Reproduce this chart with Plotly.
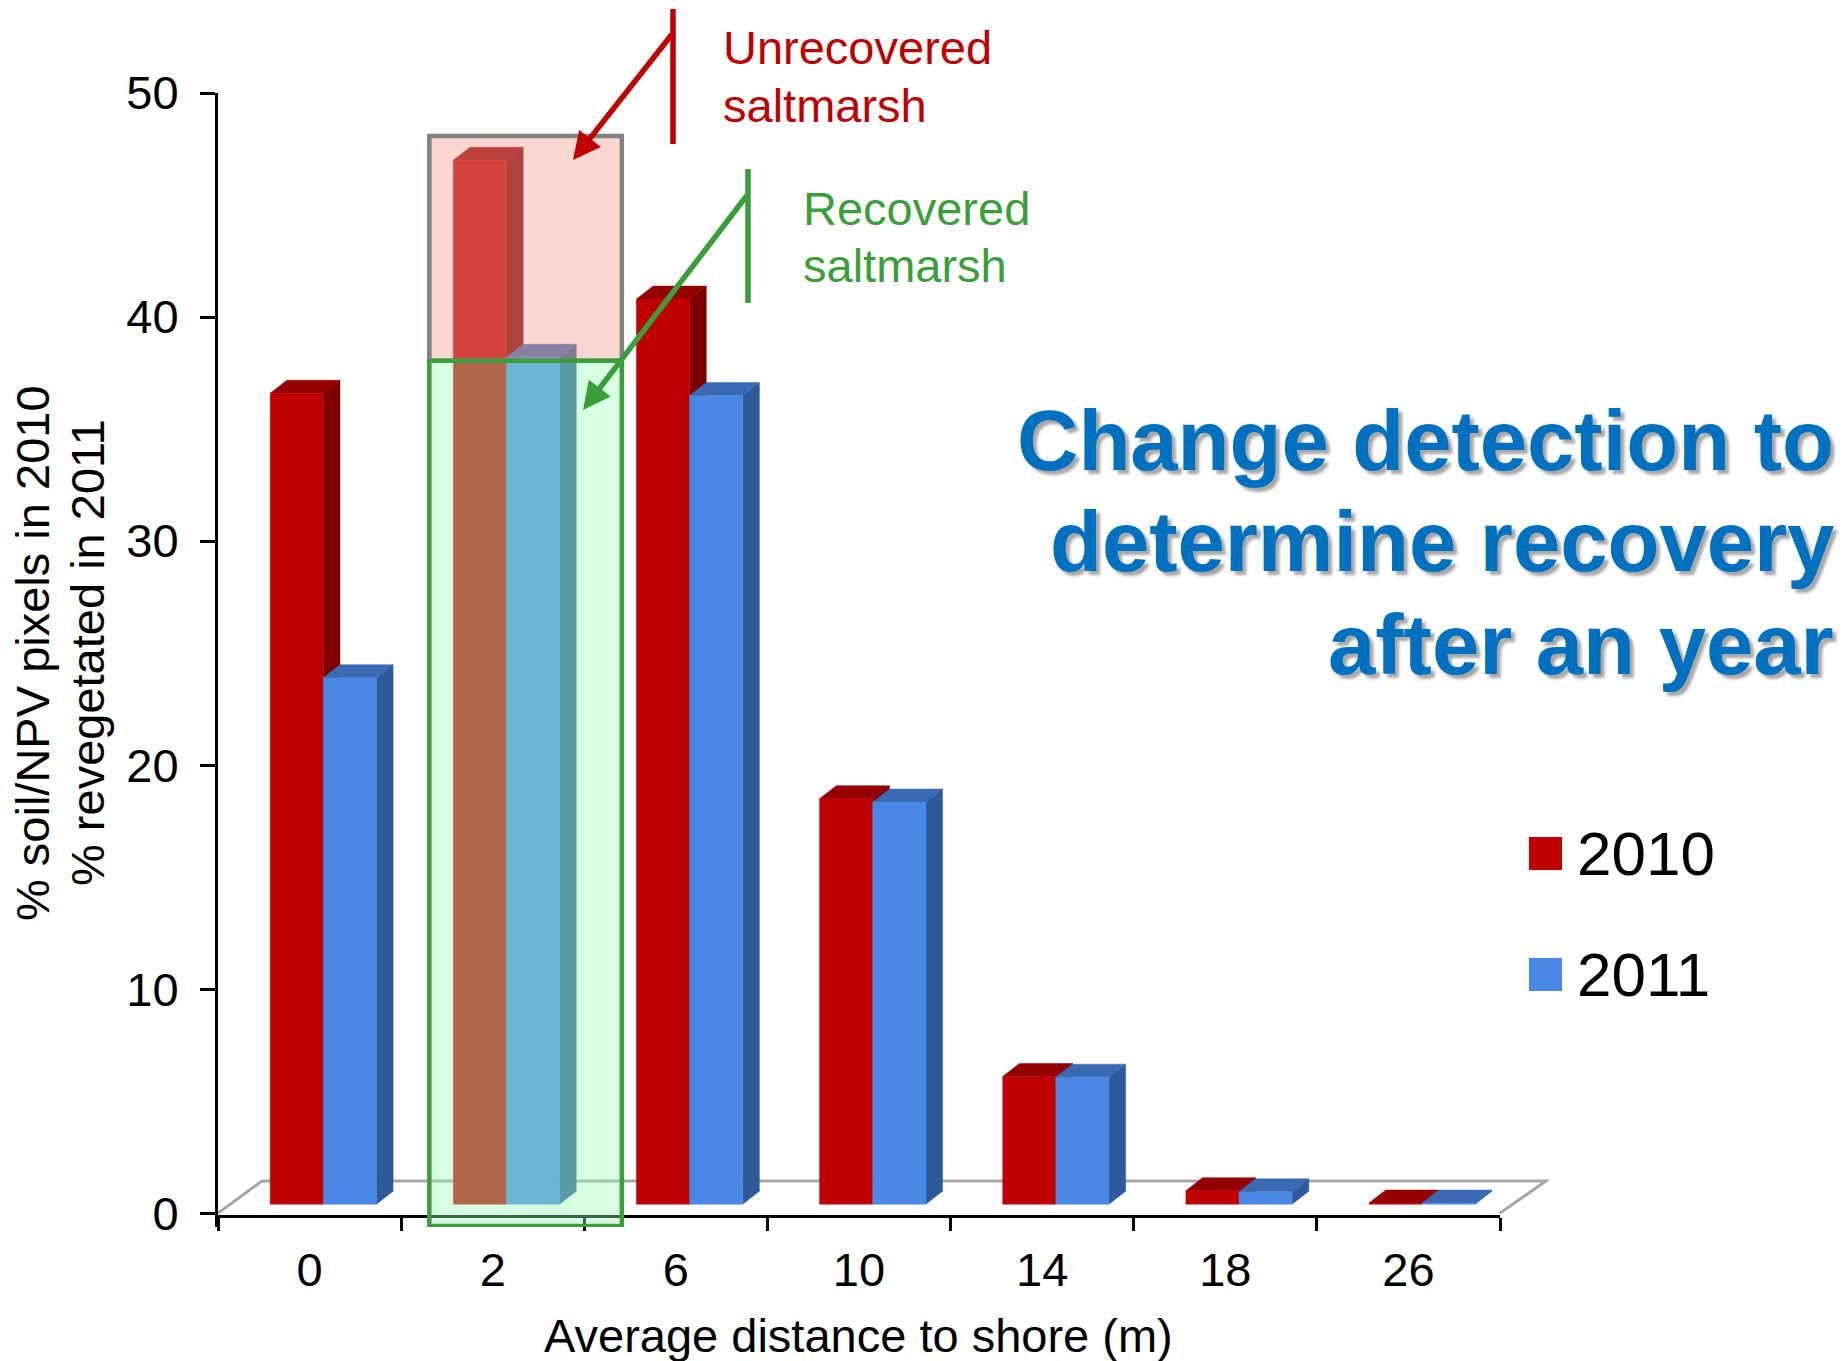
import plotly.graph_objects as go

# ---------------- data ----------------
categories = ["0", "2", "6", "10", "14", "18", "26"]
v2010 = [36.2, 46.6, 40.4, 18.1, 5.7, 0.6, 0.05]
v2011 = [23.5, 37.8, 36.1, 17.95, 5.67, 0.55, 0.05]
y_ticks = [0, 10, 20, 30, 40, 50]
series_names = ["2010", "2011"]

# ---------------- style ----------------
FONT = "Liberation Sans, Arial, sans-serif"
W, H = 1845, 1361
ML, MR, MT, MB = 218, 345, 93, 134
PW, PH = W - ML - MR, H - MT - MB
X_RANGE = [-0.5, 6.5]
Y_RANGE = [-0.62, 50]

BASE = 0.4        # floor offset of bar bottoms (3D look)
BAR_W = 0.29
OFFS = [-0.07, 0.22]
DX, DY = 0.091, 0.58
FRONT = ["#C00000", "#4A88E6"]
SIDE = ["#7C0000", "#2F5A9A"]
TOP = ["#940000", "#3A6AB2"]
RED_TXT = "#C00000"
GREEN = "#3A9E3A"


def px(xp):
    return (xp - ML) / PW


def py(yp):
    return (MT + PH - yp) / PH


def dxp(x):  # data x -> paper
    return (x - X_RANGE[0]) / (X_RANGE[1] - X_RANGE[0])


def dyp(y):  # data y -> paper
    return (y - Y_RANGE[0]) / (Y_RANGE[1] - Y_RANGE[0])


fig = go.Figure()
xs = list(range(len(categories)))


def faces(values, off):
    fx, fy, sx, sy, tx, ty = [], [], [], [], [], []
    for i, v in zip(xs, values):
        x0 = i + off - BAR_W / 2
        x1 = x0 + BAR_W
        b = BASE
        t = BASE + v
        fx += [x0, x1, x1, x0, x0, None]
        fy += [b, b, t, t, b, None]
        sx += [x1, x1 + DX, x1 + DX, x1, x1, None]
        sy += [b, b + DY, t + DY, t, b, None]
        tx += [x0, x1, x1 + DX, x0 + DX, x0, None]
        ty += [t, t, t + DY, t + DY, t, None]
    return (fx, fy), (sx, sy), (tx, ty)


for k, vals in enumerate([v2010, v2011]):
    (fx, fy), (sx, sy), (tx, ty) = faces(vals, OFFS[k])
    for (xx, yy, col) in [(sx, sy, SIDE[k]), (tx, ty, TOP[k]), (fx, fy, FRONT[k])]:
        fig.add_trace(go.Scatter(
            x=xx, y=yy, mode="lines", fill="toself", fillcolor=col,
            line=dict(color=col, width=0.5), name=series_names[k],
            hoverinfo="skip"))

# 3D floor outline (extends past the plot area on the right)
floor_pts = [(-0.5, 0), (-0.26, 1.43), (6.75, 1.43), (6.5, 0)]
floor_path = "M " + " L ".join(f"{dxp(a):.5f},{dyp(b):.5f}" for a, b in floor_pts)

shapes = [
    dict(type="path", xref="paper", yref="paper", path=floor_path,
         line=dict(color="#A6A6A6", width=3), layer="below"),
    # highlight boxes
    dict(type="rect", xref="x", yref="y", x0=0.654, x1=1.705, y0=38.05, y1=48.08,
         fillcolor="rgba(242,160,145,0.42)", line=dict(color="#808080", width=4.5),
         layer="above"),
    dict(type="rect", xref="x", yref="y", x0=0.654, x1=1.705, y0=-0.58, y1=38.05,
         fillcolor="rgba(157,252,183,0.40)", line=dict(color=GREEN, width=4.5),
         layer="above"),
    # callout bars
    dict(type="line", xref="paper", yref="paper", x0=px(673), x1=px(673),
         y0=py(9), y1=py(144), line=dict(color=RED_TXT, width=5.5)),
    dict(type="line", xref="paper", yref="paper", x0=px(748), x1=px(748),
         y0=py(169), y1=py(303), line=dict(color=GREEN, width=5.5)),
    # legend swatches
    dict(type="rect", xref="paper", yref="paper", x0=px(1529), x1=px(1562),
         y0=py(870), y1=py(837), fillcolor=FRONT[0], line=dict(width=0)),
    dict(type="rect", xref="paper", yref="paper", x0=px(1529), x1=px(1562),
         y0=py(991), y1=py(958), fillcolor=FRONT[1], line=dict(width=0)),
]

ann = []


def text(t, x, y, size, color="black", xanchor="left", bold=False, angle=0, shadow=None):
    f = dict(family=FONT, size=size, color=color)
    if bold:
        f["weight"] = "bold"
    if shadow:
        f["shadow"] = shadow
    ann.append(dict(text=t, xref="paper", yref="paper", x=px(x), y=py(y),
                    xanchor=xanchor, yanchor="middle", showarrow=False,
                    font=f, textangle=angle))


def arrow(hx, hy, tx, ty, color):
    ann.append(dict(text="", xref="paper", yref="paper", x=px(hx), y=py(hy),
                    ax=tx - hx, ay=ty - hy, showarrow=True, arrowhead=2,
                    arrowsize=1.0, arrowwidth=5.5, arrowcolor=color, standoff=0))


text("Unrecovered", 721, 48, 47, RED_TXT)
text("saltmarsh", 721, 105.6, 47, RED_TXT)
text("Recovered", 801, 208, 47, GREEN)
text("saltmarsh", 801, 265, 47, GREEN)
arrow(573, 160, 673, 33, RED_TXT)
arrow(583, 410, 748, 194, GREEN)

SH = "4px 4px 3px rgba(0,0,0,0.35)"
text("Change detection to", 1836, 440, 85, "#0070C0", "right", True, shadow=SH)
text("determine recovery", 1836, 541, 85, "#0070C0", "right", True, shadow=SH)
text("after an year", 1836, 644, 85, "#0070C0", "right", True, shadow=SH)

text(series_names[0], 1575, 853, 62)
text(series_names[1], 1575, 974, 62)

text("% soil/NPV pixels in 2010", 32, 653, 47, xanchor="center", angle=-90)
text("% revegetated in 2011", 87, 653, 47, xanchor="center", angle=-90)
text("Average distance to shore (m)", 858, 1335, 47, xanchor="center")

fig.update_layout(
    width=W, height=H,
    margin=dict(l=ML, r=MR, t=MT, b=MB, autoexpand=False),
    paper_bgcolor="white", plot_bgcolor="rgba(0,0,0,0)", showlegend=False,
    font=dict(family=FONT, color="black"),
    shapes=shapes, annotations=ann,
    xaxis=dict(range=X_RANGE, tickmode="array", tickvals=xs, ticktext=categories,
               ticks="", showline=True, linecolor="black", linewidth=3,
               anchor="free", position=py(1215.7), showgrid=False, zeroline=False,
               tickfont=dict(family=FONT, size=47), ticklabelstandoff=12,
               minor=dict(tickmode="array", tickvals=[k - 0.5 for k in range(len(categories) + 1)],
                          ticks="outside", ticklen=13, tickwidth=3, tickcolor="black",
                          showgrid=False)),
    yaxis=dict(range=Y_RANGE, tickmode="array", tickvals=y_ticks,
               ticks="outside", ticklen=15, tickwidth=3, tickcolor="black",
               showline=True, linecolor="black", linewidth=3, showgrid=False,
               zeroline=False, tickfont=dict(family=FONT, size=47),
               ticklabelstandoff=12),
)

fig.write_html("out.html")
